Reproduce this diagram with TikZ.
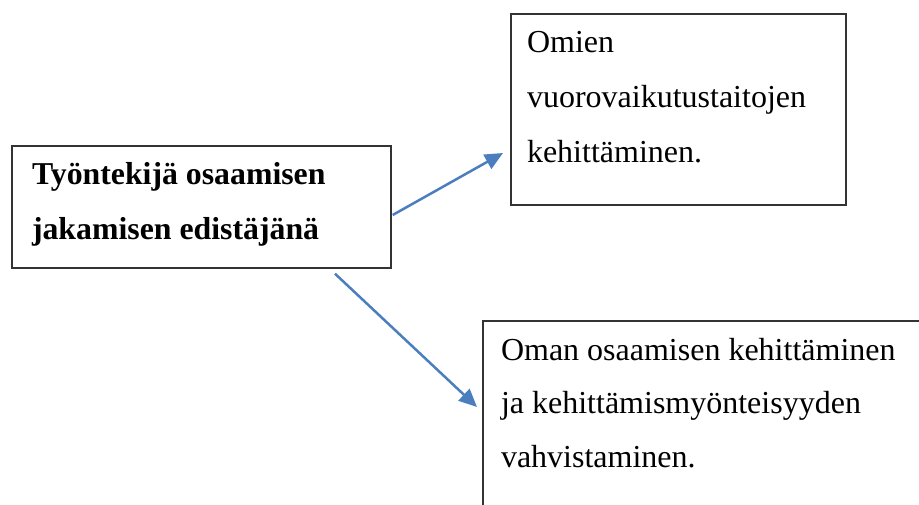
\documentclass[tikz,border=0pt]{standalone}
\usepackage{fontspec}
\setmainfont{Liberation Serif}
\usetikzlibrary{arrows.meta,calc}
\definecolor{boxline}{HTML}{333333}
\definecolor{arrowblue}{HTML}{4A7EBE}
\begin{document}
\begin{tikzpicture}[x=1pt,y=-1pt,
  framebox/.style={draw=boxline,line width=1.7pt,inner sep=0pt,anchor=north west,fill=none},
  textline/.style={anchor=base west,inner sep=0pt,outer sep=0pt,
    font=\fontsize{32}{38}\selectfont},
  boldline/.style={textline,font=\fontsize{31.8}{38}\selectfont\bfseries},
  linkarrow/.style={draw=arrowblue,line width=2.5pt,
    -{Triangle[length=18pt,width=16pt]}}]
\useasboundingbox (0,0) rectangle (919,505);
\clip (0,0) rectangle (919,505);
\fill[white] (0,0) rectangle (919,505);

% frames
\node[framebox,minimum width=379pt,minimum height=122pt] (lbox) at (11,145) {};
\node[framebox,minimum width=335pt,minimum height=191pt] (tbox) at (510,13) {};
\node[framebox,minimum width=520pt,minimum height=300pt] (bbox) at (482,320) {};

% texts
\node[boldline] (l1) at (32,185) {Työntekijä osaamisen};
\node[boldline] (l2) at (32,240) {jakamisen edistäjänä};

\node[textline] (t1) at (527,53) {Omien};
\node[textline] (t2) at (527,108) {vuorovaikutustaitojen};
\node[textline] (t3) at (527,163) {kehittäminen.};

\node[textline] (b1) at (501,360) {Oman osaamisen kehittäminen};
\node[textline] (b2) at (501,413) {ja kehittämismyönteisyyden};
\node[textline] (b3) at (501,467) {vahvistaminen.};

% connectors
\coordinate (a1s) at ($(lbox.north east)+(1,70)$);
\coordinate (a1e) at ($(tbox.north west)+(-7,140)$);
\coordinate (a2s) at ($(lbox.south west)+(324,5)$);
\coordinate (a2e) at ($(bbox.north west)+(-5,87)$);
\draw[linkarrow] (a1s) -- (a1e);
\draw[linkarrow] (a2s) -- (a2e);
\end{tikzpicture}
\end{document}
